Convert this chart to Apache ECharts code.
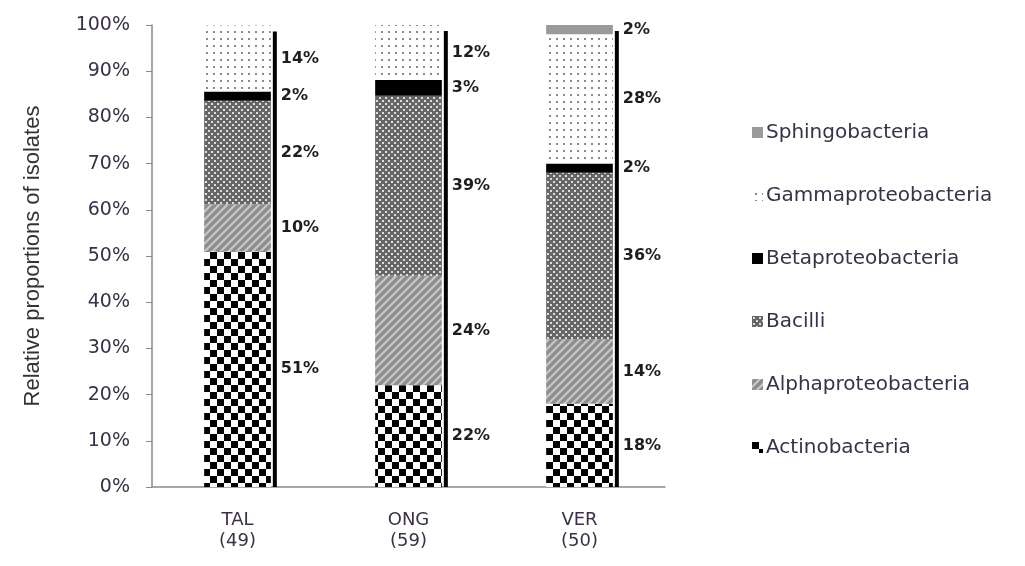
<!DOCTYPE html>
<html>
<head>
<meta charset="utf-8">
<script src="https://cdn.jsdelivr.net/npm/echarts@6/dist/echarts.min.js"></script>
<style>
  html, body { margin: 0; padding: 0; background: #fff; }
  #chart { width: 1025px; height: 566px; }
</style>
</head>
<body>
<div id="chart"></div>
<script>
// sites and number of isolates
const sites = ['TAL', 'ONG', 'VER']
const isolates = [49, 59, 50]

// relative proportions (%) per class, bottom to top of each bar
const actinobacteria = [51.0, 22.0, 18.0]
const alphaproteobacteria = [10.2, 23.7, 14.0]
const bacilli = [22.4, 39.0, 36.0]
const betaproteobacteria = [2.0, 3.4, 2.0]
const gammaproteobacteria = [14.3, 11.9, 28.0]
const sphingobacteria = [0, 0, 2.0]

const yTicks = { min: 0, max: 100, interval: 10 }

// fill patterns, like the old Excel ones
const makeTile = (w, h, draw) => {
  const c = document.createElement('canvas')
  c.width = w
  c.height = h
  draw(c.getContext('2d'), w, h)
  return { image: c, repeat: 'repeat' }
}

const checker = makeTile(14, 14, (ctx) => {
  ctx.fillStyle = '#fff'
  ctx.fillRect(0, 0, 14, 14)
  ctx.fillStyle = '#000'
  ctx.fillRect(0, 0, 7, 7)
  ctx.fillRect(7, 7, 7, 7)
})

const stripes = makeTile(8, 8, (ctx, s) => {
  ctx.fillStyle = '#8e8e8e'
  ctx.fillRect(0, 0, s, s)
  ctx.strokeStyle = '#c9c9c9'
  ctx.lineWidth = 2
  ctx.beginPath()
  ctx.moveTo(-2, 2); ctx.lineTo(2, -2)
  ctx.moveTo(0, s); ctx.lineTo(s, 0)
  ctx.moveTo(s - 2, s + 2); ctx.lineTo(s + 2, s - 2)
  ctx.stroke()
})

const mesh = makeTile(6, 6, (ctx) => {
  ctx.fillStyle = '#666'
  ctx.fillRect(0, 0, 6, 6)
  ctx.fillStyle = '#dcdcdc'
  ctx.fillRect(1, 1, 2, 2)
  ctx.fillRect(4, 4, 2, 2)
})

const dots = makeTile(7, 7, (ctx) => {
  ctx.fillStyle = '#fff'
  ctx.fillRect(0, 0, 7, 7)
  ctx.fillStyle = '#8a8a8a'
  ctx.fillRect(3, 3, 2, 2)
})

const barWidthRatio = 0.39
const labelColor = '#1e1e1e'
const textColor = '#3a3048'

const classes = [
  { name: 'Actinobacteria', data: actinobacteria, color: checker },
  { name: 'Alphaproteobacteria', data: alphaproteobacteria, color: stripes },
  { name: 'Bacilli', data: bacilli, color: mesh },
  { name: 'Betaproteobacteria', data: betaproteobacteria, color: '#000' },
  { name: 'Gammaproteobacteria', data: gammaproteobacteria, color: dots },
  { name: 'Sphingobacteria', data: sphingobacteria, color: '#9a9a9a' },
]

const totals = sites.map((s, i) => classes.reduce((acc, c) => acc + c.data[i], 0))

const chart = echarts.init(document.getElementById('chart'))

const option = {
  animation: false,
  backgroundColor: '#fff',
  grid: { left: 152, right: 360, top: 25, bottom: 79 },
  legend: {
    orient: 'vertical',
    left: 747,
    top: 116,
    itemGap: 40,
    itemWidth: 11,
    itemHeight: 11,
    icon: 'rect',
    data: classes.map((c) => c.name).reverse(),
    textStyle: {
      fontFamily: 'DejaVu Sans',
      fontSize: 20,
      lineHeight: 23,
      color: textColor,
      padding: [0, 0, 0, -2],
    },
  },
  xAxis: {
    type: 'category',
    data: sites,
    axisLine: { lineStyle: { color: '#8a8a8a', width: 1.5 } },
    axisTick: { length: 6, lineStyle: { color: '#8a8a8a' } },
    axisLabel: {
      margin: 23,
      fontFamily: 'DejaVu Sans',
      fontSize: 18,
      lineHeight: 21,
      color: textColor,
      formatter: (v, i) => v + '\n(' + isolates[i] + ')',
    },
  },
  yAxis: {
    type: 'value',
    min: yTicks.min,
    max: yTicks.max,
    interval: yTicks.interval,
    name: 'Relative proportions of isolates',
    nameLocation: 'middle',
    nameGap: 108,
    nameTextStyle: { fontFamily: 'Liberation Sans', fontSize: 22, color: '#333' },
    axisLine: { show: true, lineStyle: { color: '#8a8a8a', width: 1.5 } },
    axisTick: { show: true, length: 6, lineStyle: { color: '#8a8a8a' } },
    splitLine: { show: false },
    axisLabel: {
      margin: 22,
      fontFamily: 'DejaVu Sans',
      fontSize: 19,
      color: textColor,
      formatter: '{value}%',
    },
  },
  series: [
    ...classes.map((c) => ({
      name: c.name,
      type: 'bar',
      stack: 'all',
      barWidth: barWidthRatio * 100 + '%',
      data: c.data,
      itemStyle: { color: c.color },
      label: {
        show: true,
        position: 'right',
        distance: 10,
        fontFamily: 'DejaVu Sans',
        fontWeight: 'bold',
        fontSize: 16,
        color: labelColor,
        formatter: (p) => (p.value > 0 ? Math.round(p.value) + '%' : ''),
      },
    })),
    {
      // thick dark edge on the right of each bar
      name: 'edge',
      type: 'custom',
      z: 1,
      data: totals.map((t, i) => [i, t]),
      renderItem: (params, api) => {
        const top = api.coord([api.value(0), api.value(1)])
        const base = api.coord([api.value(0), 0])
        const bw = api.size([1, 0])[0] * barWidthRatio
        const x = top[0] + bw / 2 + 2
        return {
          type: 'rect',
          shape: { x: x, y: top[1] + 6, width: 4, height: base[1] - top[1] - 6 },
          style: { fill: '#000' },
        }
      },
    },
  ],
}

chart.setOption(option)
</script>
</body>
</html>
